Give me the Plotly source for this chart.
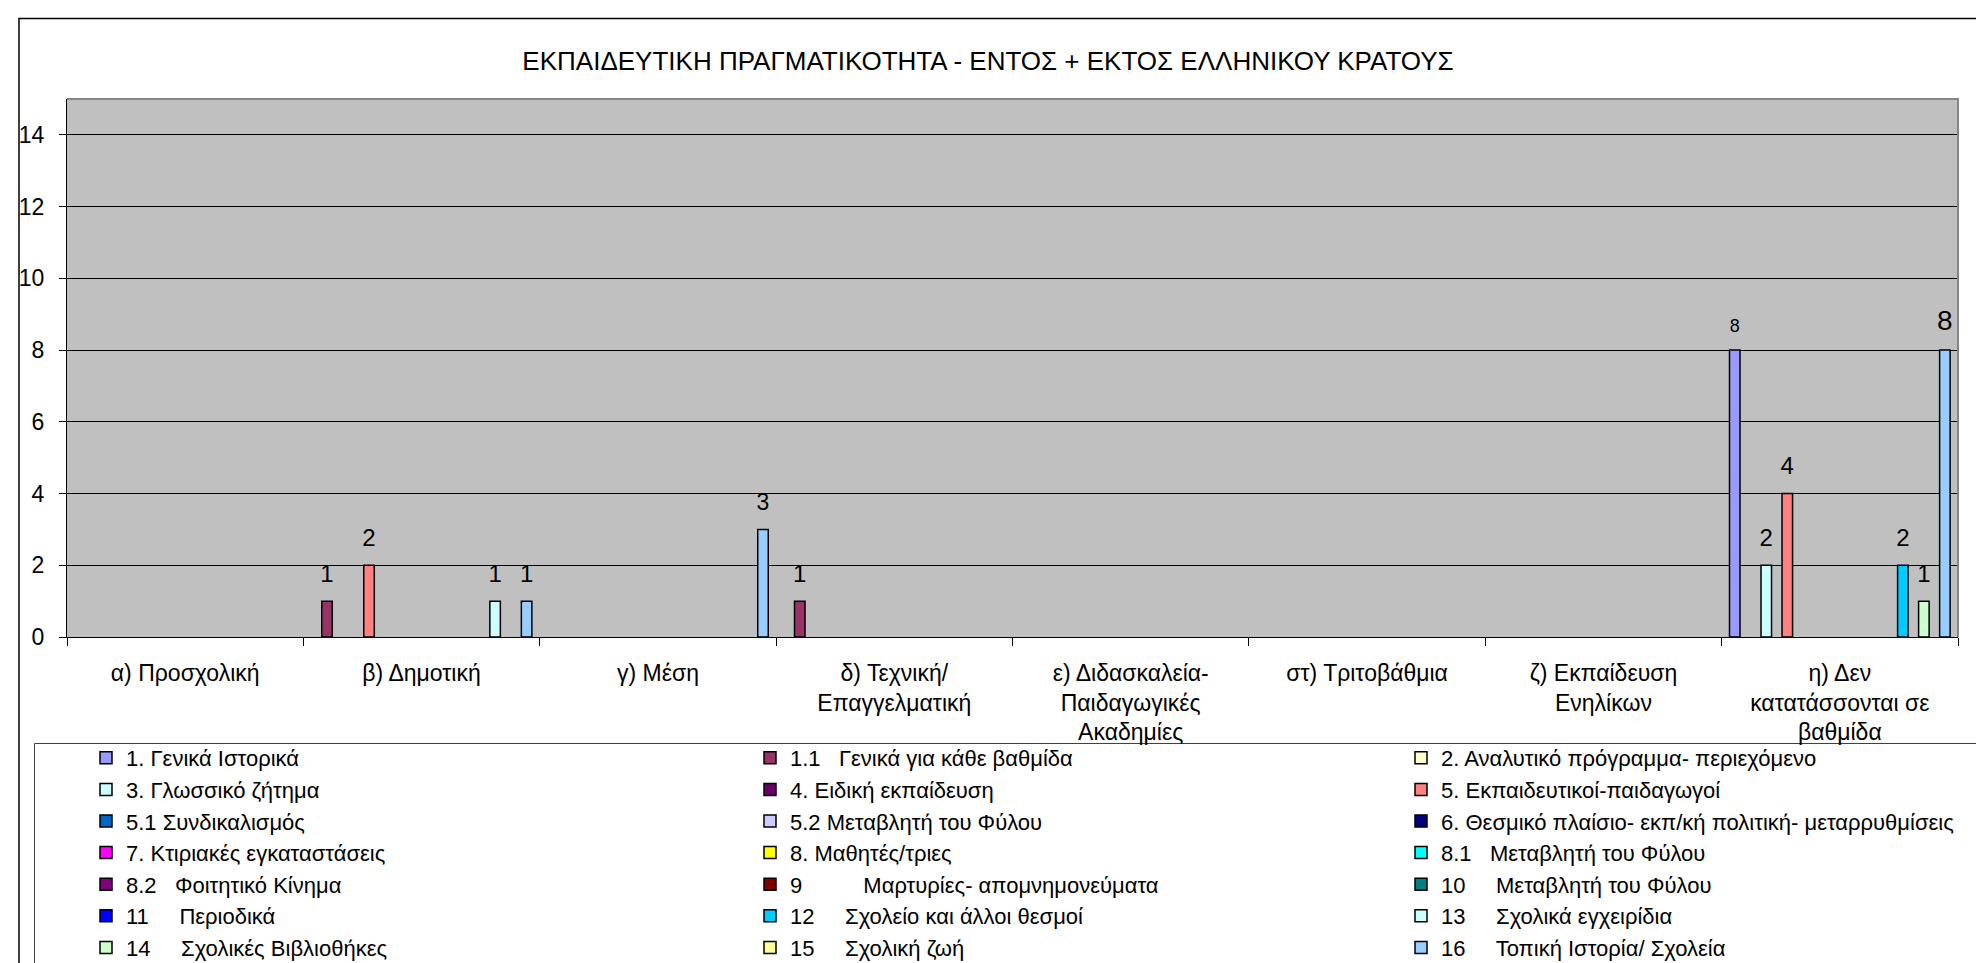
import plotly.graph_objects as go

categories = [
    "α) Προσχολική",
    "β) Δημοτική",
    "γ) Μέση",
    "δ) Τεχνική/<br>Επαγγελματική",
    "ε) Διδασκαλεία-<br>Παιδαγωγικές<br>Ακαδημίες",
    "στ) Τριτοβάθμια",
    "ζ) Εκπαίδευση<br>Ενηλίκων",
    "η) Δεν<br>κατατάσσονται σε<br>βαθμίδα",
]

series_names = [
    "1. Γενικά Ιστορικά",
    "1.1   Γενικά για κάθε βαθμίδα",
    "2. Αναλυτικό πρόγραμμα- περιεχόμενο",
    "3. Γλωσσικό ζήτημα",
    "4. Ειδική εκπαίδευση",
    "5. Εκπαιδευτικοί-παιδαγωγοί",
    "5.1 Συνδικαλισμός",
    "5.2 Μεταβλητή του Φύλου",
    "6. Θεσμικό πλαίσιο- εκπ/κή πολιτική- μεταρρυθμίσεις",
    "7. Κτιριακές εγκαταστάσεις",
    "8. Μαθητές/τριες",
    "8.1   Μεταβλητή του Φύλου",
    "8.2   Φοιτητικό Κίνημα",
    "9          Μαρτυρίες- απομνημονεύματα",
    "10     Μεταβλητή του Φύλου",
    "11     Περιοδικά",
    "12     Σχολείο και άλλοι θεσμοί",
    "13     Σχολικά εγχειρίδια",
    "14     Σχολικές Βιβλιοθήκες",
    "15     Σχολική ζωή",
    "16     Τοπική Ιστορία/ Σχολεία",
]

series_colors = [
    "#9999FF", "#993366", "#FFFFCC", "#CCFFFF", "#660066", "#FF8080", "#0066CC",
    "#CCCCFF", "#000080", "#FF00FF", "#FFFF00", "#00FFFF", "#800080", "#800000",
    "#008080", "#0000FF", "#00CCFF", "#CCFFFF", "#CCFFCC", "#FFFF99", "#99CCFF",
]

# counts per category, one value per series (same order as series_names)
prosxoliki   = [0, 0, 0, 0, 0, 0, 0, 0, 0, 0, 0, 0, 0, 0, 0, 0, 0, 0, 0, 0, 0]
dimotiki     = [0, 1, 0, 0, 0, 2, 0, 0, 0, 0, 0, 0, 0, 0, 0, 0, 0, 1, 0, 0, 1]
mesi         = [0, 0, 0, 0, 0, 0, 0, 0, 0, 0, 0, 0, 0, 0, 0, 0, 0, 0, 0, 0, 3]
texniki      = [0, 1, 0, 0, 0, 0, 0, 0, 0, 0, 0, 0, 0, 0, 0, 0, 0, 0, 0, 0, 0]
didaskaleia  = [0, 0, 0, 0, 0, 0, 0, 0, 0, 0, 0, 0, 0, 0, 0, 0, 0, 0, 0, 0, 0]
tritovathmia = [0, 0, 0, 0, 0, 0, 0, 0, 0, 0, 0, 0, 0, 0, 0, 0, 0, 0, 0, 0, 0]
enilikes     = [0, 0, 0, 0, 0, 0, 0, 0, 0, 0, 0, 0, 0, 0, 0, 0, 0, 0, 0, 0, 0]
den_katat    = [8, 0, 0, 2, 0, 4, 0, 0, 0, 0, 0, 0, 0, 0, 0, 0, 2, 0, 1, 0, 8]

by_category = [prosxoliki, dimotiki, mesi, texniki, didaskaleia,
               tritovathmia, enilikes, den_katat]

title_text = "ΕΚΠΑΙΔΕΥΤΙΚΗ ΠΡΑΓΜΑΤΙΚΟΤΗΤΑ - ΕΝΤΟΣ + ΕΚΤΟΣ ΕΛΛΗΝΙΚΟΥ ΚΡΑΤΟΥΣ"

# layout in pixels
W, H = 1984, 963
L, R, T, B = 59, 34, 91, 334
PW, PH = W - L - R, H - T - B
FONT = "Arial, Liberation Sans, sans-serif"
GAP = 1.5 / 22.5
label_size_default = 24
label_size_override = {(0, 7): 18, (20, 2): 23, (20, 7): 28}


def px(x):
    return (x - L) / PW


def py(y):
    return (H - B - y) / PH


legend_ids = ["legend", "legend2", "legend3"]
legend_marker_x = [98, 762, 1413]

fig = go.Figure()

for i, name in enumerate(series_names):
    vals = [c[i] if c[i] else None for c in by_category]
    fig.add_trace(go.Bar(
        x=categories, y=vals, name=name,
        marker=dict(color=series_colors[i], line=dict(color="black", width=1.5)),
        offsetgroup=str(i), legend=legend_ids[i % 3],
    ))

# value labels above the bars
for i, name in enumerate(series_names):
    vals = [c[i] if c[i] else None for c in by_category]
    sizes = [label_size_override.get((i, j), label_size_default) for j in range(len(categories))]
    fig.add_trace(go.Scatter(
        x=categories, y=vals, mode="markers+text",
        text=[str(v) if v else "" for v in vals],
        textposition="top center",
        textfont=dict(size=sizes, color="black", family=FONT),
        marker=dict(size=20, opacity=0),
        offsetgroup=str(i), orientation="v",
        showlegend=False, hoverinfo="skip", cliponaxis=False,
    ))

legends = {}
for k, lid in enumerate(legend_ids):
    legends[lid] = dict(
        x=px(legend_marker_x[k] - 20), y=py(729), xanchor="left", yanchor="top",
        orientation="v", font=dict(size=22, family=FONT, color="black"),
        bgcolor="rgba(0,0,0,0)", borderwidth=0,
    )

fig.update_layout(
    width=W, height=H,
    margin=dict(l=L, r=R, t=T, b=B, autoexpand=False),
    barmode="group", bargap=GAP, bargroupgap=0,
    scattermode="group", scattergap=GAP,
    plot_bgcolor="#C0C0C0", paper_bgcolor="white",
    font=dict(family=FONT, color="black"),
    title=dict(text=title_text, x=980 / W, xanchor="center", y=1 - 53 / H,
               yanchor="middle", font=dict(size=26, family=FONT, color="black")),
    showlegend=True,
    **legends,
)

fig.update_xaxes(
    type="category", tickson="boundaries", ticks="outside", ticklen=8,
    tickcolor="black", showline=True, linecolor="black", linewidth=1,
    showgrid=False, tickfont=dict(size=23), ticklabelstandoff=15,
)
fig.update_yaxes(
    range=[0, 15], tick0=0, dtick=2, ticks="outside", ticklen=7, tickcolor="black",
    showline=True, linecolor="black", linewidth=1, showgrid=True,
    gridcolor="black", gridwidth=1, zeroline=False, tickfont=dict(size=23),
    ticklabelstandoff=10,
)

# plot area border (top and right), outer chart frame, legend frame
fig.add_shape(type="path", xref="paper", yref="paper", path="M0,1 L1,1 L1,0",
              line=dict(color="#868686", width=2), layer="above")
fig.add_shape(type="rect", xref="paper", yref="paper",
              x0=px(11), x1=px(2100), y0=py(1000), y1=py(10.5),
              line=dict(color="black", width=1.5), layer="below")
fig.add_shape(type="rect", xref="paper", yref="paper",
              x0=px(26.5), x1=px(2100), y0=py(956.5), y1=py(735.5),
              line=dict(color="#404040", width=1), layer="below")

fig.write_html("out.html")
